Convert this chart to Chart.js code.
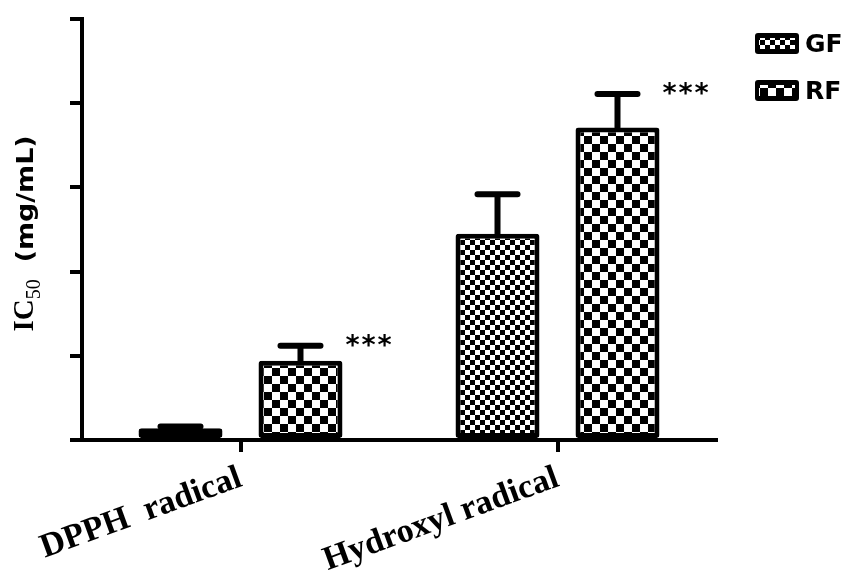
<!DOCTYPE html>
<html>
<head>
<meta charset="utf-8">
<script src="https://cdn.jsdelivr.net/npm/chart.js@4.4.1/dist/chart.umd.min.js"></script>
<style>
  html, body { margin: 0; padding: 0; background: #fff; }
  #wrap { width: 858px; height: 574px; }
</style>
</head>
<body>
<div id="wrap"><canvas id="ic50Chart" width="858" height="574"></canvas></div>
<script>
// values (axis has no numbers, so units are tick steps)
const categories = ["DPPH  radical", "Hydroxyl radical"]
const seriesNames = ["GF", "RF"]
const gfValues = [0.14, 2.45]
const rfValues = [0.94, 3.71]
const gfErrors = [0.02, 0.47]
const rfErrors = [0.18, 0.40]
const rfSignificance = ["***", "***"]
const yMin = 0
const yMax = 5
const yStep = 1

const makePattern = (cell) => {
	const c = document.createElement("canvas")
	c.width = cell * 2
	c.height = cell * 2
	const g = c.getContext("2d")
	g.fillStyle = "#fff"
	g.fillRect(0, 0, c.width, c.height)
	g.fillStyle = "#000"
	g.fillRect(0, 0, cell, cell)
	g.fillRect(cell, cell, cell, cell)
	return g.createPattern(c, "repeat")
}

const ctx = document.getElementById("ic50Chart").getContext("2d")
const finePattern = makePattern(5)
const coarsePattern = makePattern(8)

const errorBars = {
	id: "errorBars",
	afterDatasetsDraw(chart) {
		const c = chart.ctx
		const y = chart.scales.y
		c.save()
		c.strokeStyle = "#000"
		c.lineWidth = 6
		c.lineCap = "round"
		chart.data.datasets.forEach((ds, i) => {
			const meta = chart.getDatasetMeta(i)
			meta.data.forEach((bar, j) => {
				const top = y.getPixelForValue(ds.data[j] + ds.errors[j])
				const base = y.getPixelForValue(ds.data[j])
				c.beginPath()
				c.moveTo(bar.x, base)
				c.lineTo(bar.x, top)
				c.moveTo(bar.x - 20, top)
				c.lineTo(bar.x + 20, top)
				c.stroke()
				if (ds.stars && ds.stars[j]) {
					c.fillStyle = "#000"
					c.font = "bold 27px 'DejaVu Sans'"
					c.textAlign = "center"
					c.textBaseline = "alphabetic"
					for (let k = 0; k < ds.stars[j].length; k++) {
						c.fillText("*", bar.x + 52 + k * 16, top + 8)
					}
				}
			})
		})
		c.restore()
	},
}

const yTitle = {
	id: "yTitle",
	afterDraw(chart) {
		const c = chart.ctx
		const area = chart.chartArea
		const parts = [
			{ t: "IC", f: "bold 29px 'Liberation Serif'", dy: 0, sx: 1, gap: 0 },
			{ t: "50", f: "20px 'Liberation Serif'", dy: 7, sx: 1, gap: 17 },
			{ t: "(mg/mL)", f: "bold 23px 'DejaVu Sans'", dy: 0, sx: 1.17, gap: 0 },
		]
		c.save()
		let total = 0
		parts.forEach((p) => {
			c.font = p.f
			p.w = c.measureText(p.t).width * p.sx
			total += p.w + p.gap
		})
		c.translate(33, (area.top + area.bottom) / 2 + 4)
		c.rotate(-Math.PI / 2)
		c.fillStyle = "#000"
		c.textBaseline = "alphabetic"
		let x = -total / 2
		parts.forEach((p) => {
			c.font = p.f
			c.save()
			c.translate(x, p.dy)
			c.scale(p.sx, 1)
			c.fillText(p.t, 0, 0)
			c.restore()
			x += p.w + p.gap
		})
		c.restore()
	},
}

const legendBoxes = {
	id: "legendBoxes",
	afterDraw(chart) {
		const c = chart.ctx
		c.save()
		chart.data.datasets.forEach((ds, i) => {
			const top = 33 + i * 47
			c.fillStyle = "#000"
			c.beginPath()
			c.roundRect(755, top, 44, 21, 3)
			c.fill()
			c.fillStyle = ds.backgroundColor
			c.fillRect(759, top + 5, 36, 11)
			c.fillStyle = "#000"
			c.font = "bold 25px 'DejaVu Sans'"
			c.textAlign = "left"
			c.textBaseline = "alphabetic"
			c.fillText(ds.label, 805, top + 19)
		})
		c.restore()
	},
}

new Chart(ctx, {
	type: "bar",
	data: {
		labels: categories,
		datasets: [
			{
				label: seriesNames[0],
				data: gfValues,
				errors: gfErrors,
				backgroundColor: finePattern,
				borderColor: "#000",
				borderWidth: 5,
				borderRadius: 3,
				borderSkipped: false,
			},
			{
				label: seriesNames[1],
				data: rfValues,
				errors: rfErrors,
				stars: rfSignificance,
				backgroundColor: coarsePattern,
				borderColor: "#000",
				borderWidth: 5,
				borderRadius: 3,
				borderSkipped: false,
			},
		],
	},
	options: {
		responsive: false,
		animation: false,
		layout: { padding: { top: 19, right: 142, left: 0, bottom: 0 } },
		plugins: { legend: { display: false }, tooltip: { enabled: false } },
		datasets: { bar: { categoryPercentage: 0.757, barPercentage: 0.7 } },
		scales: {
			x: {
				afterFit: (s) => { s.height = 134 },
				grid: { offset: false, drawOnChartArea: false, tickLength: 12, color: "#000", lineWidth: 4 },
				border: { color: "#000", width: 4 },
				ticks: {
					color: "#000",
					font: { family: "'Liberation Serif'", weight: "bold", size: 34 },
					minRotation: 20,
					maxRotation: 20,
					padding: 6,
				},
			},
			y: {
				min: yMin,
				max: yMax,
				afterFit: (s) => { s.width = 82 },
				grid: { drawOnChartArea: false, tickLength: 12, color: "#000", lineWidth: 4 },
				border: { color: "#000", width: 4 },
				ticks: { display: false, stepSize: yStep },
			},
		},
	},
	plugins: [errorBars, yTitle, legendBoxes],
})
</script>
</body>
</html>
